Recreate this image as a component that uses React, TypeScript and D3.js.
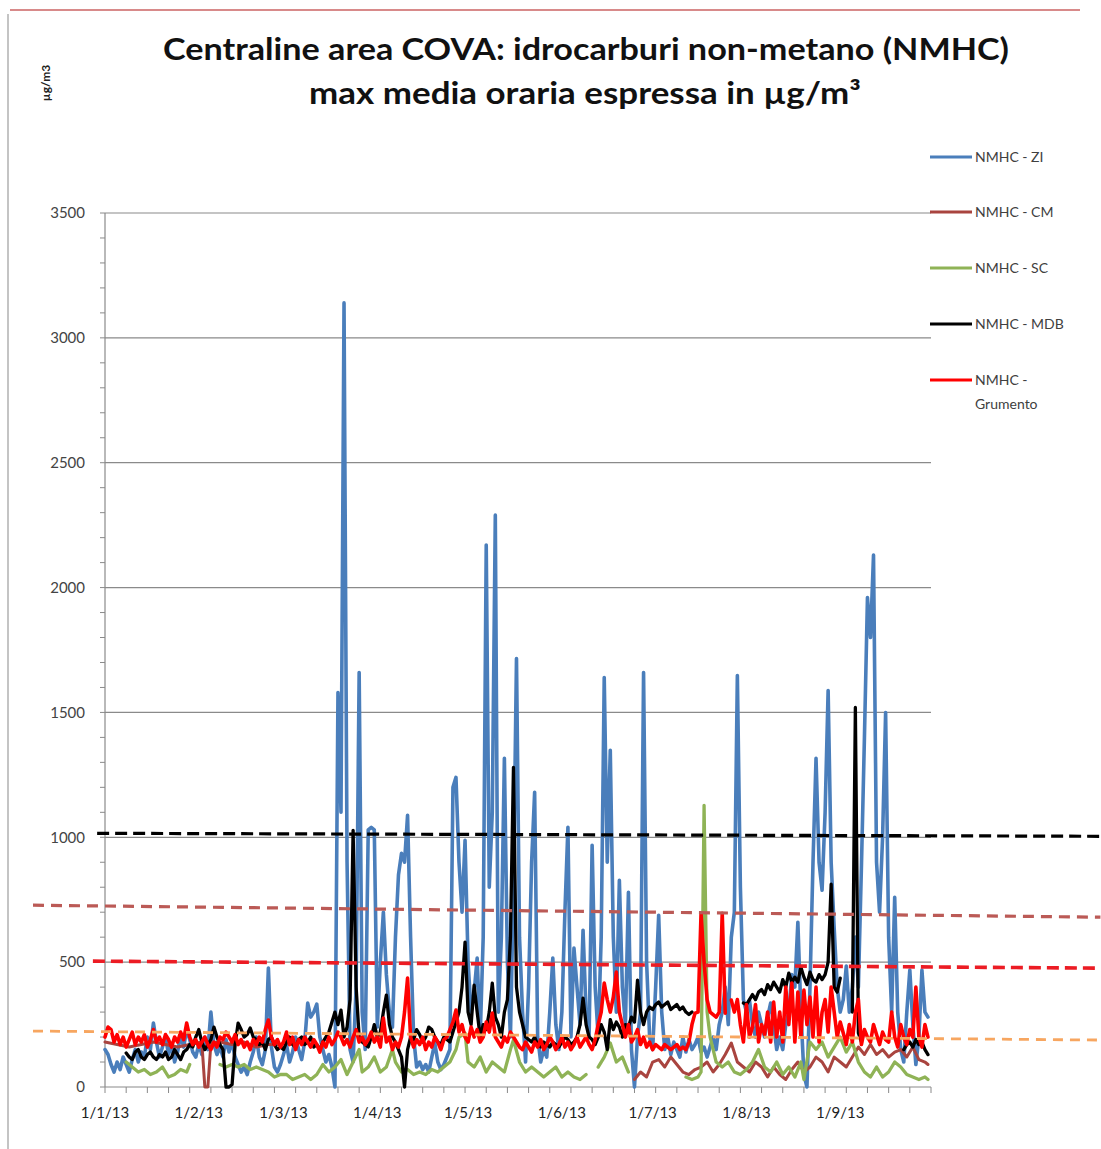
import React from 'react';
import * as d3 from 'd3';

const W = 1101;
const H = 1149;
const PLOT = { left: 105, right: 931, top: 213, bottom: 1087 };

const startDate = new Date(2013, 0, 1);
const endDate = new Date(2013, 9, 1);

const yTicks = [0, 500, 1000, 1500, 2000, 2500, 3000, 3500];
const yMinorStep = 100;
const xMinorStepDays = 7;
const xTickLabels = ['1/1/13', '1/2/13', '1/3/13', '1/4/13', '1/5/13', '1/6/13', '1/7/13', '1/8/13', '1/9/13'];

const titleLines = ['Centraline area COVA: idrocarburi non-metano (NMHC)', 'max media oraria espressa in µg/m³'];
const yTitle = 'µg/m3';

type Pt = [number, number | null];

// NMHC - ZI (blue)
const seriesZI: Pt[] = [
  [0,150],[1,130],[2,90],[3,60],[4,100],[5,70],[6,120],[7,90],[8,60],[9,110],[10,150],[11,100],[12,140],[13,120],[14,200],[15,150],[16,256],[17,180],[18,120],[19,160],[20,200],[21,130],[22,170],[23,100],[24,140],[25,210],[26,160],[27,230],[28,190],[29,140],[30,120],[31,170],[32,130],[33,200],[34,150],[35,300],[36,170],[37,130],[38,160],[39,120],[40,190],[41,140],[42,180],[43,120],[44,90],[45,60],[46,80],[47,50],[48,100],[49,140],[50,200],[51,120],[52,90],[53,150],[54,476],[55,160],[56,80],[57,60],[58,90],[59,130],[60,170],[61,100],[62,140],[63,200],[64,150],[65,110],[66,180],[67,336],[68,280],[69,300],[70,332],[71,200],[72,150],[73,100],[74,130],[75,80],[76,0],[77,1580],[78,1100],[79,3140],[80,900],[81,150],[82,100],[83,400],[84,1660],[85,300],[86,150],[87,1030],[88,1040],[89,1030],[90,240],[91,500],[92,700],[93,450],[94,300],[95,240],[96,600],[97,850],[98,936],[99,900],[100,1088],[101,600],[102,200],[103,80],[104,100],[105,70],[106,90],[107,60],[108,120],[109,176],[110,100],[111,70],[112,90],[113,120],[114,150],[115,1200],[116,1240],[117,900],[118,700],[119,988],[120,500],[121,300],[122,380],[123,516],[124,200],[125,600],[126,2170],[127,800],[128,1100],[129,2290],[130,300],[131,600],[132,1316],[133,500],[134,200],[135,800],[136,1716],[137,600],[138,300],[139,100],[140,400],[141,900],[142,1180],[143,200],[144,100],[145,150],[146,120],[147,300],[148,516],[149,250],[150,150],[151,300],[152,700],[153,1040],[154,200],[155,556],[156,400],[157,250],[158,628],[159,300],[160,200],[161,968],[162,400],[163,200],[164,600],[165,1640],[166,900],[167,1348],[168,600],[169,300],[170,828],[171,400],[172,250],[173,780],[174,150],[175,0],[176,200],[177,300],[178,1660],[179,500],[180,200],[181,150],[182,400],[183,688],[184,300],[185,150],[186,200],[187,130],[188,180],[189,150],[190,120],[191,200],[192,140],[193,190],[194,150],[195,170],[196,200],[197,140],[198,160],[199,120],[200,160],[201,200],[202,150],[203,250],[204,300],[205,400],[206,250],[207,600],[208,700],[209,1648],[210,800],[211,350],[212,300],[213,348],[214,250],[215,200],[216,300],[217,250],[218,200],[219,280],[220,336],[221,250],[222,150],[223,200],[224,150],[225,250],[226,300],[227,450],[228,400],[229,660],[230,300],[231,50],[232,0],[233,400],[234,900],[235,1316],[236,900],[237,788],[238,1100],[239,1588],[240,900],[241,636],[242,400],[243,300],[244,350],[245,484],[246,300],[247,400],[248,600],[249,400],[250,880],[251,1400],[252,1960],[253,1800],[254,2130],[255,900],[256,700],[257,1000],[258,1500],[259,600],[260,300],[261,760],[262,300],[263,150],[264,100],[265,300],[266,468],[267,250],[268,90],[269,200],[270,468],[271,300],[272,280]
];

// NMHC - CM (brown)
const seriesCM: Pt[] = [
  [0,180],[4,170],[8,160],[12,170],[16,180],[20,170],[24,160],[28,170],[32,180],[33,0],[34,0],[35,175],[38,180],[42,170],[46,180],[50,160],[54,170],[58,170],[59,null],
  [175,30],[177,60],[179,40],[181,100],[183,110],[185,80],[187,120],[189,90],[191,60],[193,50],[195,70],[197,80],[199,100],[201,60],[203,90],[205,130],[207,176],[209,100],[211,80],[213,60],[215,100],[217,80],[219,40],[221,80],[223,50],[225,30],[227,70],[229,100],[231,60],[233,80],[235,120],[237,100],[239,60],[241,120],[243,100],[245,80],[247,120],[249,160],[251,130],[253,170],[255,130],[257,150],[259,120],[261,140],[263,150],[265,120],[267,160],[269,110],[271,100],[272,90]
];

// NMHC - SC (green)
const seriesSC: Pt[] = [
  [7,100],[9,80],[11,60],[13,70],[15,50],[17,60],[19,80],[21,40],[23,50],[25,70],[27,60],[28,90],[29,null],
  [38,90],[40,80],[42,90],[44,80],[46,90],[48,70],[50,80],[52,70],[54,60],[56,40],[58,50],[60,50],[62,30],[64,40],[66,50],[68,30],[70,50],[72,90],[74,60],[76,80],[78,110],[80,50],[82,100],[84,150],[85,60],[87,80],[89,120],[91,60],[93,80],[95,150],[96,100],[98,60],[100,70],[102,50],[104,60],[106,50],[108,70],[110,60],[112,80],[114,100],[116,150],[117,200],[119,216],[120,100],[122,80],[124,120],[126,60],[128,100],[130,80],[132,60],[134,150],[135,188],[137,100],[139,60],[141,80],[143,60],[145,40],[147,60],[149,80],[151,40],[153,60],[155,40],[157,30],[159,50],[160,null],
  [163,80],[165,120],[167,176],[169,100],[171,120],[173,60],[174,null],
  [192,40],[194,30],[196,40],[197,60],[198,1128],[199,300],[200,200],[201,150],[202,100],[204,80],[206,100],[208,60],[210,50],[212,70],[214,100],[216,150],[218,80],[220,60],[222,100],[224,50],[226,80],[228,40],[230,100],[231,30],[233,180],[235,150],[237,180],[239,120],[241,160],[243,200],[245,140],[247,180],[249,100],[251,60],[253,40],[255,80],[257,40],[259,60],[261,100],[263,80],[265,50],[267,40],[269,30],[271,40],[272,30]
];

// NMHC - MDB (black)
const seriesMDB: Pt[] = [
  [7,136],[8,120],[9,110],[10,140],[11,150],[12,120],[13,110],[14,130],[15,140],[16,120],[17,110],[18,130],[19,120],[20,140],[21,110],[22,120],[23,150],[24,130],[25,110],[26,140],[27,150],[28,170],[29,160],[30,200],[31,230],[32,180],[33,150],[34,170],[35,190],[36,240],[37,200],[38,170],[39,150],[40,0],[41,0],[42,10],[43,170],[44,256],[45,230],[46,200],[47,210],[48,236],[49,200],[50,190],[51,170],[52,180],[53,150],[54,190],[55,200],[56,170],[57,150],[58,160],[59,150],[60,180],[61,200],[62,170],[63,160],[64,190],[65,200],[66,170],[67,180],[68,200],[69,160],[70,170],[71,150],[72,180],[73,200],[74,220],[75,260],[76,300],[77,250],[78,308],[79,200],[80,240],[81,350],[82,1028],[83,400],[84,200],[85,180],[86,170],[87,160],[88,200],[89,250],[90,200],[91,220],[92,300],[93,368],[94,250],[95,200],[96,180],[97,150],[98,120],[99,0],[100,150],[101,200],[102,190],[103,230],[104,210],[105,180],[106,200],[107,240],[108,230],[109,200],[110,180],[111,170],[112,200],[113,190],[114,180],[115,220],[116,260],[117,300],[118,400],[119,580],[120,300],[121,250],[122,408],[123,300],[124,200],[125,250],[126,230],[127,300],[128,416],[129,280],[130,250],[131,200],[132,300],[133,350],[134,600],[135,1280],[136,400],[137,300],[138,250],[139,200],[140,190],[141,180],[142,200],[143,170],[144,160],[145,180],[146,170],[147,160],[148,180],[149,170],[150,160],[151,180],[152,200],[153,190],[154,170],[155,180],[156,200],[157,250],[158,356],[159,250],[160,200],[161,190],[162,170],[163,200],[164,250],[165,220],[166,150],[167,270],[168,230],[169,260],[170,240],[171,200],[172,250],[173,240],[174,280],[175,260],[176,428],[177,300],[178,250],[179,300],[180,320],[181,310],[182,330],[183,340],[184,320],[185,330],[186,340],[187,310],[188,320],[189,330],[190,310],[191,320],[192,300],[193,290],[194,300],[195,null],
  [211,336],[212,330],[213,350],[214,370],[215,350],[216,380],[217,390],[218,370],[219,410],[220,390],[221,420],[222,400],[223,380],[224,430],[225,400],[226,456],[227,420],[228,440],[229,420],[230,480],[231,440],[232,410],[233,460],[234,430],[235,420],[236,450],[237,430],[238,450],[239,500],[240,812],[241,400],[242,380],[243,436],[244,null],
  [247,300],[248,1520],[249,216],[250,180],[251,null],
  [264,150],[265,170],[266,180],[267,160],[268,190],[269,170],[270,180],[271,150],[272,130]
];

// NMHC - Grumento (red)
const seriesGrumento: Pt[] = [
  [0,200],[1,240],[2,230],[3,180],[4,210],[5,170],[6,200],[7,160],[8,190],[9,220],[10,170],[11,200],[12,180],[13,210],[14,160],[15,190],[16,230],[17,180],[18,200],[19,170],[20,210],[21,190],[22,160],[23,200],[24,180],[25,220],[26,190],[27,256],[28,200],[29,170],[30,190],[31,160],[32,180],[33,200],[34,170],[35,150],[36,180],[37,160],[38,200],[39,190],[40,220],[41,200],[42,180],[43,210],[44,170],[45,190],[46,160],[47,180],[48,150],[49,190],[50,170],[51,200],[52,180],[53,230],[54,268],[55,200],[56,170],[57,190],[58,160],[59,180],[60,220],[61,170],[62,200],[63,150],[64,190],[65,170],[66,200],[67,180],[68,160],[69,190],[70,170],[71,140],[72,180],[73,160],[74,200],[75,170],[76,190],[77,220],[78,200],[79,170],[80,190],[81,160],[82,200],[83,230],[84,180],[85,200],[86,170],[87,190],[88,220],[89,180],[90,200],[91,160],[92,276],[93,180],[94,200],[95,150],[96,180],[97,160],[98,200],[99,300],[100,436],[101,200],[102,160],[103,190],[104,170],[105,200],[106,150],[107,180],[108,160],[109,200],[110,180],[111,150],[112,190],[113,200],[114,230],[115,260],[116,308],[117,220],[118,250],[119,200],[120,180],[121,240],[122,200],[123,230],[124,180],[125,200],[126,260],[127,220],[128,296],[129,200],[130,180],[131,160],[132,200],[133,180],[134,220],[135,200],[136,180],[137,160],[138,150],[139,180],[140,160],[141,140],[142,180],[143,160],[144,190],[145,150],[146,170],[147,200],[148,180],[149,150],[150,170],[151,200],[152,160],[153,180],[154,150],[155,170],[156,200],[157,160],[158,180],[159,200],[160,170],[161,150],[162,190],[163,250],[164,300],[165,416],[166,350],[167,300],[168,360],[169,460],[170,300],[171,250],[172,200],[173,250],[174,180],[175,200],[176,230],[177,170],[178,200],[179,160],[180,180],[181,150],[182,170],[183,160],[184,150],[185,170],[186,160],[187,150],[188,160],[189,170],[190,150],[191,160],[192,150],[193,180],[194,250],[195,296],[196,300],[197,696],[198,500],[199,350],[200,300],[201,290],[202,280],[203,300],[204,696],[205,296],[206,null],
  [207,348],[208,300],[209,350],[210,250],[211,180],[212,330],[213,200],[214,240],[215,330],[216,180],[217,250],[218,210],[219,300],[220,180],[221,340],[222,200],[223,300],[224,180],[225,400],[226,250],[227,416],[228,180],[229,380],[230,200],[231,388],[232,250],[233,360],[234,200],[235,400],[236,180],[237,300],[238,350],[239,220],[240,400],[241,300],[242,200],[243,260],[244,216],[245,170],[246,250],[247,180],[248,300],[249,350],[250,170],[251,230],[252,200],[253,180],[254,250],[255,210],[256,170],[257,220],[258,190],[259,180],[260,300],[261,200],[262,160],[263,250],[264,200],[265,170],[266,230],[267,200],[268,400],[269,200],[270,160],[271,250],[272,200]
];

const seriesList = [
  { name: 'NMHC - ZI', data: seriesZI, color: '#4a7ebb', width: 3.6 },
  { name: 'NMHC - CM', data: seriesCM, color: '#a9443f', width: 3 },
  { name: 'NMHC - SC', data: seriesSC, color: '#8fb356', width: 3.3 },
  { name: 'NMHC - MDB', data: seriesMDB, color: '#000000', width: 3.3 },
  { name: 'NMHC - Grumento', data: seriesGrumento, color: '#ff0000', width: 3.6 },
];

const legendLabels = [['NMHC - ZI'], ['NMHC - CM'], ['NMHC - SC'], ['NMHC - MDB'], ['NMHC -', 'Grumento']];

// Threshold dashed lines (start/end day offsets from 1 Jan and values)
const thresholdStartDay = [-2.6, -23.8, -4, -23.8];
const thresholdEndDay = [329, 329, 329, 329];
const thresholdStartValue = [1016, 728, 504, 224];
const thresholdEndValue = [1004, 680, 476, 188];
const thresholdColors = ['#000000', '#bb5a56', '#ec1c24', '#f7a660'];
const thresholdWidths = [3.2, 3.2, 3.6, 2.8];
const thresholdDash = ['12 6', '11 7', '12 6', '10 7'];

export default function App() {
  const x = d3.scaleTime().domain([startDate, endDate]).range([PLOT.left, PLOT.right]);
  const y = d3.scaleLinear().domain([0, 3500]).range([PLOT.bottom, PLOT.top]);
  const xd = (d: number) => x(new Date(startDate.getTime() + d * 86400000));

  const line = d3
    .line<Pt>()
    .defined((p) => p[1] !== null)
    .x((p) => xd(p[0]))
    .y((p) => y(p[1] as number));

  const monthStarts = d3.timeMonth.range(startDate, new Date(2013, 8, 2));
  const totalDays = d3.timeDay.count(startDate, endDate);
  const xMinor = d3.range(0, totalDays + 1, xMinorStepDays);
  const yMinor = d3.range(0, 3500 + 1, yMinorStep);

  const font = "Lato, 'Open Sans', 'Liberation Sans', sans-serif";
  const legendRowY = [157, 212, 268, 324, 380];

  return (
    <svg width={W} height={H} style={{ position: 'absolute', left: 0, top: 0, background: '#fff' }} fontFamily={font}>
      <rect x={0} y={0} width={W} height={H} fill="#ffffff" />
      {/* slide frame */}
      <line x1={10} x2={1080} y1={10} y2={10} stroke="#d88a8a" strokeWidth={2} />
      <line x1={8} x2={8} y1={14} y2={H} stroke="#b0b0b0" strokeWidth={1.5} />

      {/* title */}
      <text x={586} y={60} textAnchor="middle" fontSize={30} fontWeight={700} fill="#111" textLength={846} lengthAdjust="spacingAndGlyphs">
        {titleLines[0]}
      </text>
      <text x={585} y={104} textAnchor="middle" fontSize={30} fontWeight={700} fill="#111" textLength={552} lengthAdjust="spacingAndGlyphs">
        {titleLines[1]}
      </text>
      <text transform="translate(50,83) rotate(-90)" textAnchor="middle" fontSize={12} fontWeight={700} fill="#222">
        {yTitle}
      </text>

      {/* gridlines */}
      {yTicks.filter((t) => t > 0).map((t) => (
        <line key={t} x1={PLOT.left} x2={PLOT.right} y1={y(t)} y2={y(t)} stroke="#8a8a8a" strokeWidth={1.2} />
      ))}
      {/* axes */}
      <line x1={PLOT.left} x2={PLOT.left} y1={PLOT.top} y2={PLOT.bottom} stroke="#8a8a8a" strokeWidth={1.2} />
      <line x1={PLOT.left} x2={PLOT.right} y1={PLOT.bottom} y2={PLOT.bottom} stroke="#8a8a8a" strokeWidth={1.2} />
      {yMinor.map((t) => (
        <line key={'ym' + t} x1={PLOT.left - 5} x2={PLOT.left} y1={y(t)} y2={y(t)} stroke="#8a8a8a" strokeWidth={1} />
      ))}
      {xMinor.map((d) => (
        <line key={'xm' + d} x1={xd(d)} x2={xd(d)} y1={PLOT.bottom} y2={PLOT.bottom + 6} stroke="#8a8a8a" strokeWidth={1} />
      ))}
      {yTicks.map((t) => (
        <text key={'yl' + t} x={PLOT.left - 20} y={y(t)} dy="0.35em" textAnchor="end" fontSize={15} fill="#444">
          {t}
        </text>
      ))}
      {monthStarts.map((m, i) => (
        <text key={'xl' + i} x={x(m)} y={1118} textAnchor="middle" fontSize={15} fill="#222">
          {xTickLabels[i]}
        </text>
      ))}

      {/* series */}
      {seriesList.map((s) => (
        <path key={s.name} d={line(s.data) || ''} fill="none" stroke={s.color} strokeWidth={s.width} strokeLinejoin="round" strokeLinecap="round" />
      ))}

      {/* threshold dashed lines */}
      {thresholdColors.map((c, i) => (
        <line
          key={'th' + i}
          x1={xd(thresholdStartDay[i])}
          x2={xd(thresholdEndDay[i])}
          y1={y(thresholdStartValue[i])}
          y2={y(thresholdEndValue[i])}
          stroke={c}
          strokeWidth={thresholdWidths[i]}
          strokeDasharray={thresholdDash[i]}
        />
      ))}

      {/* legend */}
      {seriesList.map((s, i) => (
        <g key={'lg' + i}>
          <line x1={930} x2={972} y1={legendRowY[i]} y2={legendRowY[i]} stroke={s.color} strokeWidth={3} />
          {legendLabels[i].map((l, j) => (
            <text key={j} x={975} y={legendRowY[i] + j * 24} dy="0.35em" fontSize={14} fill="#404040">
              {l}
            </text>
          ))}
        </g>
      ))}
    </svg>
  );
}
